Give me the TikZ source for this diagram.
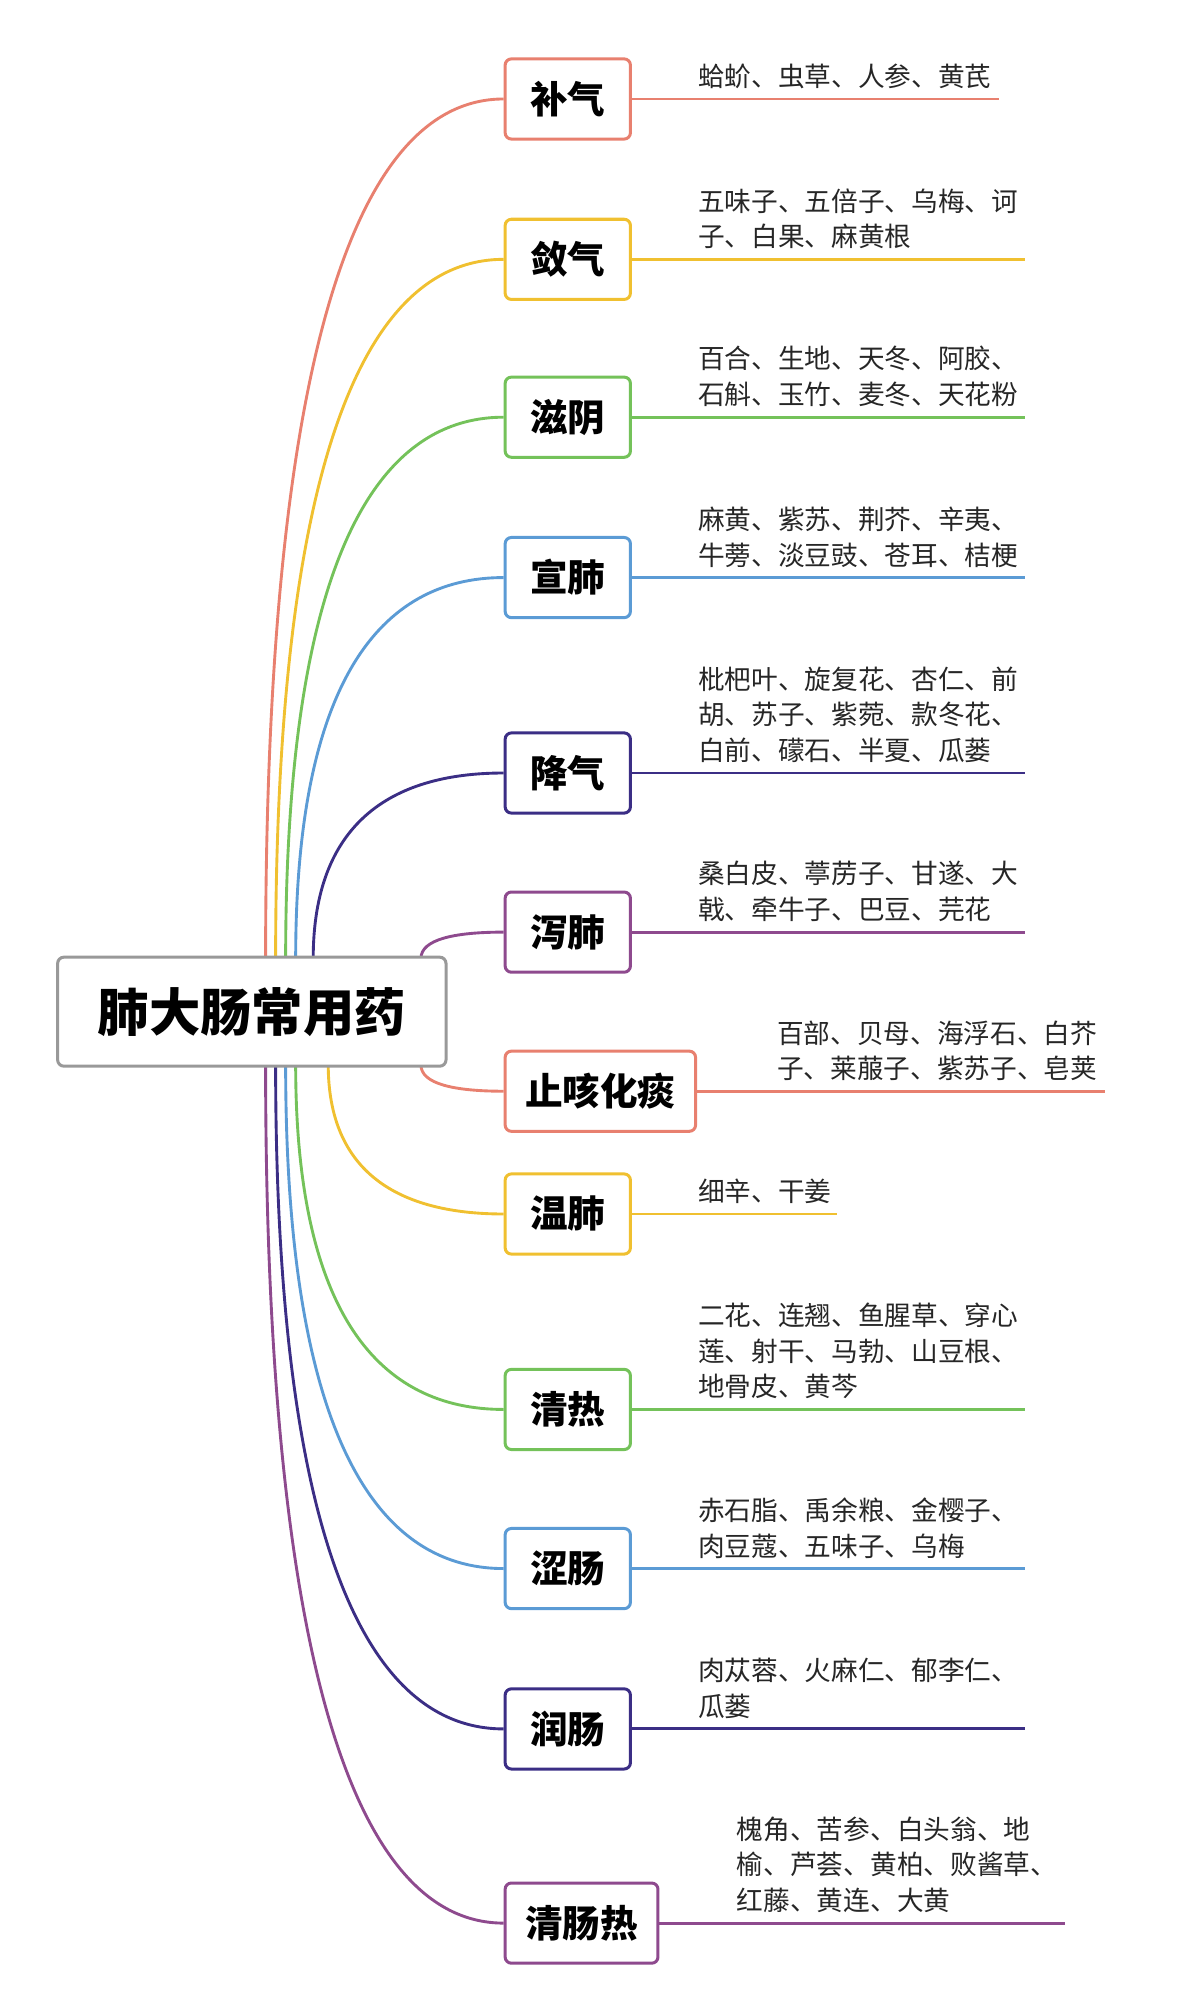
\documentclass[tikz,border=0pt]{standalone}
\usepackage{fontspec}
\setmainfont{Noto Sans CJK SC}
\usetikzlibrary{calc,backgrounds}
\definecolor{cRed}{HTML}{E8806F}
\definecolor{cGold}{HTML}{F0C030}
\definecolor{cGreen}{HTML}{74C25A}
\definecolor{cBlue}{HTML}{5B9BD5}
\definecolor{cNavy}{HTML}{3B2E85}
\definecolor{cPurple}{HTML}{8E4A8E}
\tikzset{
  rootbox/.style={draw=gray!80, line width=2.4pt, rounded corners=5pt, fill=white,
    minimum width=310pt, minimum height=87pt, font=\fontsize{41}{44}\selectfont\bfseries},
  catbox/.style={draw=#1, line width=2.4pt, rounded corners=5pt, fill=white,
    minimum height=64pt, minimum width=100pt, anchor=west, inner xsep=16pt,
    font=\fontsize{30}{32}\selectfont\bfseries},
  leaf/.style={anchor=south west, align=left, inner sep=0pt,
    font=\fontsize{21.3}{28.5}\selectfont, text=black!85},
  stem/.style={draw=#1, line width=2.3pt},
}
\begin{document}
\begin{tikzpicture}[x=1pt,y=1pt,yscale=-1]
\useasboundingbox (0,0) rectangle (940,1590);

% root
\node[rootbox] (root) at (201,807.5) {肺大肠常用药};

% categories
\node[catbox=cRed]    (bq)  at (402,79)   {补气};
\node[catbox=cGold]   (lq)  at (402,207)  {敛气};
\node[catbox=cGreen]  (zy)  at (402,333)  {滋阴};
\node[catbox=cBlue]   (xf)  at (402,461)  {宣肺};
\node[catbox=cNavy]   (jq)  at (402,617)  {降气};
\node[catbox=cPurple] (xie) at (402,744)  {泻肺};
\node[catbox=cRed]    (zk)  at (402,871)  {止咳化痰};
\node[catbox=cGold]   (wf)  at (402,969)  {温肺};
\node[catbox=cGreen]  (qr)  at (402,1125) {清热};
\node[catbox=cBlue]   (sc)  at (402,1252) {涩肠};
\node[catbox=cNavy]   (rc)  at (402,1380) {润肠};
\node[catbox=cPurple] (qcr) at (402,1535) {清肠热};

% line ends
\coordinate (bqE)  at (797,79);
\coordinate (lqE)  at (818,207);
\coordinate (zyE)  at (818,333);
\coordinate (xfE)  at (818,461);
\coordinate (jqE)  at (818,617);
\coordinate (xieE) at (818,744);
\coordinate (zkE)  at (882,871);
\coordinate (wfE)  at (668,969);
\coordinate (qrE)  at (818,1125);
\coordinate (scE)  at (818,1252);
\coordinate (rcE)  at (818,1380);
\coordinate (qcrE) at (850,1535);

% branch starts on the root box
\coordinate (bqS)  at (212,765);
\coordinate (lqS)  at (220,765);
\coordinate (zyS)  at (228,765);
\coordinate (xfS)  at (236,765);
\coordinate (jqS)  at (250,765);
\coordinate (xieS) at (336,765);
\coordinate (zkS)  at (336,850);
\coordinate (wfS)  at (262,850);
\coordinate (qrS)  at (236,850);
\coordinate (scS)  at (228,850);
\coordinate (rcS)  at (220,850);
\coordinate (qcrS) at (212,850);

\begin{scope}[on background layer]
\foreach \n/\c in {bq/cRed,lq/cGold,zy/cGreen,xf/cBlue,jq/cNavy,xie/cPurple,
                   zk/cRed,wf/cGold,qr/cGreen,sc/cBlue,rc/cNavy,qcr/cPurple}{
  \draw[stem=\c] (\n S) .. controls ($(\n S)!0.72!(\n S|-\n.west)$) and ($(\n S|-\n.west)!0.4!(\n.west)$) .. (\n.west);
  \draw[stem=\c] (\n.east) -- (\n E);
}
\end{scope}

% herbs
\node[leaf] (bqT)  at (557,71)   {蛤蚧、虫草、人参、黄芪};
\node[leaf] (lqT)  at (557,199)  {五味子、五倍子、乌梅、诃\\子、白果、麻黄根};
\node[leaf] (zyT)  at (557,325)  {百合、生地、天冬、阿胶、\\石斛、玉竹、麦冬、天花粉};
\node[leaf] (xfT)  at (557,453)  {麻黄、紫苏、荆芥、辛夷、\\牛蒡、淡豆豉、苍耳、桔梗};
\node[leaf] (jqT)  at (557,609)  {枇杷叶、旋复花、杏仁、前\\胡、苏子、紫菀、款冬花、\\白前、礞石、半夏、瓜蒌};
\node[leaf] (xieT) at (557,736)  {桑白皮、葶苈子、甘遂、大\\戟、牵牛子、巴豆、芫花};
\node[leaf] (zkT)  at (620,863)  {百部、贝母、海浮石、白芥\\子、莱菔子、紫苏子、皂荚};
\node[leaf] (wfT)  at (557,961)  {细辛、干姜};
\node[leaf] (qrT)  at (557,1117) {二花、连翘、鱼腥草、穿心\\莲、射干、马勃、山豆根、\\地骨皮、黄芩};
\node[leaf] (scT)  at (557,1244) {赤石脂、禹余粮、金樱子、\\肉豆蔻、五味子、乌梅};
\node[leaf] (rcT)  at (557,1372) {肉苁蓉、火麻仁、郁李仁、\\瓜蒌};
\node[leaf] (qcrT) at (588,1527) {槐角、苦参、白头翁、地\\榆、芦荟、黄柏、败酱草、\\红藤、黄连、大黄};
\end{tikzpicture}
\end{document}
